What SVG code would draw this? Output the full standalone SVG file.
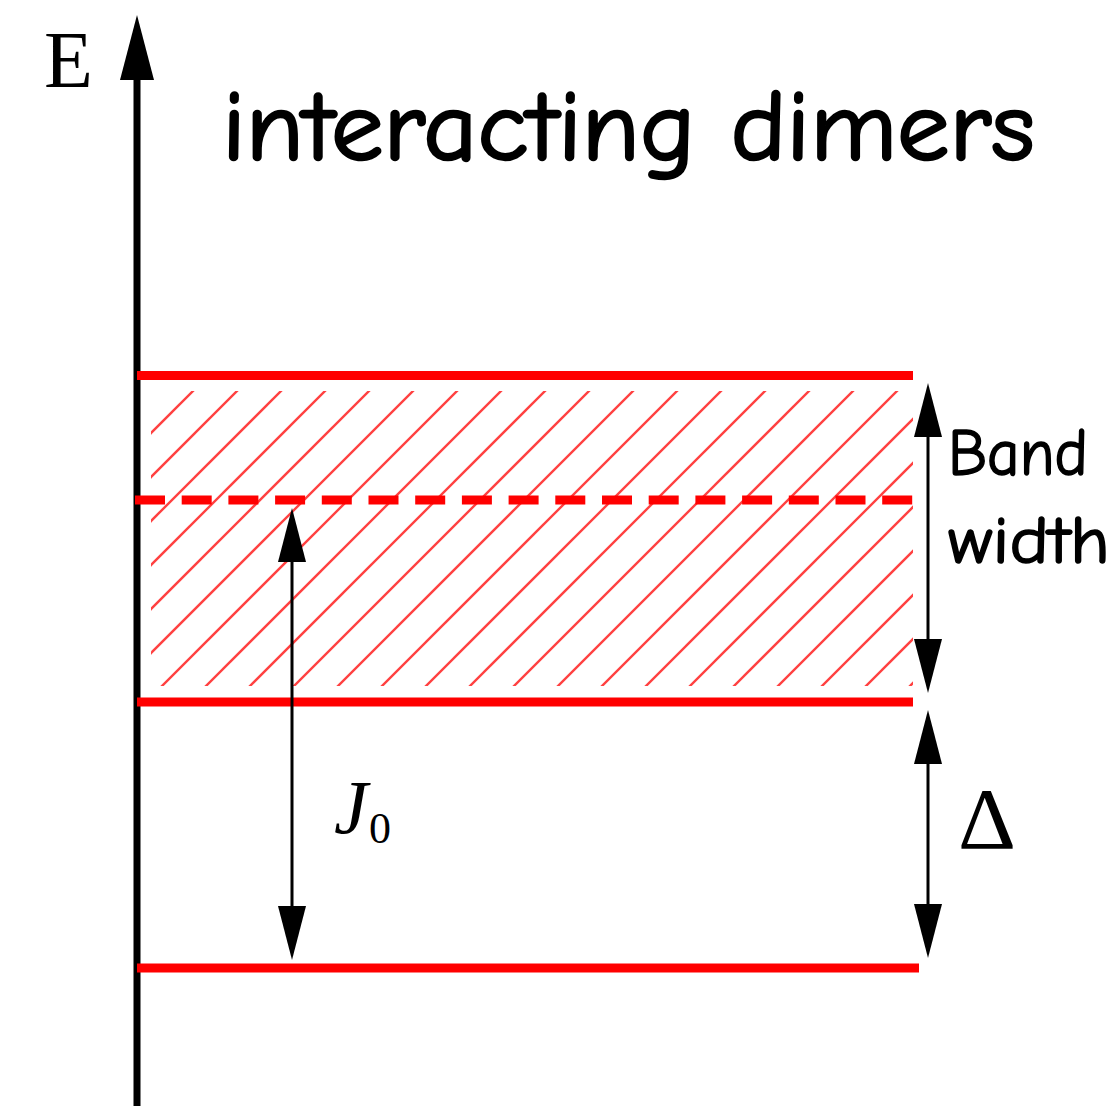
<svg xmlns="http://www.w3.org/2000/svg" width="1113" height="1106" viewBox="0 0 1113 1106">
<style>
.lvl{stroke:#ff0000;stroke-width:9;fill:none}
.hatch{stroke:#ff4040;stroke-width:2.4;fill:none}
.dim{stroke:#000;stroke-width:3;fill:none}
.hand{font-family:"Comic Sans MS","Comic Neue","Noto Sans",sans-serif;fill:#000;stroke:#000}
.math{font-family:"Liberation Serif","DejaVu Serif",serif;fill:#000}
</style>
<defs>
<marker id="ah" viewBox="0 0 54 28" refX="0" refY="14" markerWidth="54" markerHeight="28" markerUnits="userSpaceOnUse" orient="auto-start-reverse">
<path d="M0 0 L54 14 L0 28 Z" fill="#000"/>
</marker>
<clipPath id="bandclip"><rect x="151" y="391" width="762" height="295"/></clipPath>
</defs>
<rect width="1113" height="1106" fill="#fff"/>

<g id="axis">
<line x1="137" y1="1106" x2="137" y2="75" stroke="#000" stroke-width="7"/>
<path d="M137 15 L154 80 L120 80 Z" fill="#000"/>
<text class="math" x="44" y="87" font-size="80">E</text>
</g>

<g id="title">
<text class="hand" x="222" y="160" font-size="100" stroke-width="2.5" textLength="813" lengthAdjust="spacingAndGlyphs">interacting dimers</text>
</g>

<g id="band">
<g class="hatch" clip-path="url(#bandclip)">
<line x1="-160" y1="700" x2="160" y2="380"/>
<line x1="-116" y1="700" x2="204" y2="380"/>
<line x1="-72" y1="700" x2="248" y2="380"/>
<line x1="-28" y1="700" x2="292" y2="380"/>
<line x1="16" y1="700" x2="336" y2="380"/>
<line x1="60" y1="700" x2="380" y2="380"/>
<line x1="104" y1="700" x2="424" y2="380"/>
<line x1="148" y1="700" x2="468" y2="380"/>
<line x1="192" y1="700" x2="512" y2="380"/>
<line x1="236" y1="700" x2="556" y2="380"/>
<line x1="280" y1="700" x2="600" y2="380"/>
<line x1="324" y1="700" x2="644" y2="380"/>
<line x1="368" y1="700" x2="688" y2="380"/>
<line x1="412" y1="700" x2="732" y2="380"/>
<line x1="456" y1="700" x2="776" y2="380"/>
<line x1="500" y1="700" x2="820" y2="380"/>
<line x1="544" y1="700" x2="864" y2="380"/>
<line x1="588" y1="700" x2="908" y2="380"/>
<line x1="632" y1="700" x2="952" y2="380"/>
<line x1="676" y1="700" x2="996" y2="380"/>
<line x1="720" y1="700" x2="1040" y2="380"/>
<line x1="764" y1="700" x2="1084" y2="380"/>
<line x1="808" y1="700" x2="1128" y2="380"/>
<line x1="852" y1="700" x2="1172" y2="380"/>
<line x1="896" y1="700" x2="1216" y2="380"/>
</g>
<line class="lvl" x1="137" y1="375.5" x2="913" y2="375.5"/>
<line class="lvl" x1="135" y1="500" x2="913" y2="500" stroke-dasharray="30 16.7"/>
<line class="lvl" x1="137" y1="702" x2="913" y2="702"/>
</g>

<g id="ground">
<line class="lvl" x1="137" y1="968" x2="919" y2="968"/>
</g>

<g id="connectors">
<line class="dim" x1="292" y1="562" x2="292" y2="906" marker-start="url(#ah)" marker-end="url(#ah)"/>
<line class="dim" x1="928" y1="437" x2="928" y2="639" marker-start="url(#ah)" marker-end="url(#ah)"/>
<line class="dim" x1="928" y1="764" x2="928" y2="904" marker-start="url(#ah)" marker-end="url(#ah)"/>
</g>

<g id="labels">
<text class="hand" x="948" y="475" font-size="66" stroke-width="1.5" textLength="140" lengthAdjust="spacingAndGlyphs">Band</text>
<text class="hand" x="948" y="563" font-size="66" stroke-width="1.5" textLength="162" lengthAdjust="spacingAndGlyphs">width</text>
<text class="math" x="334" y="833" font-size="76" font-style="italic">J</text>
<text class="math" x="369" y="843" font-size="44">0</text>
<text class="math" x="958" y="848" font-size="86" textLength="58" lengthAdjust="spacingAndGlyphs">Δ</text>
</g>
</svg>
